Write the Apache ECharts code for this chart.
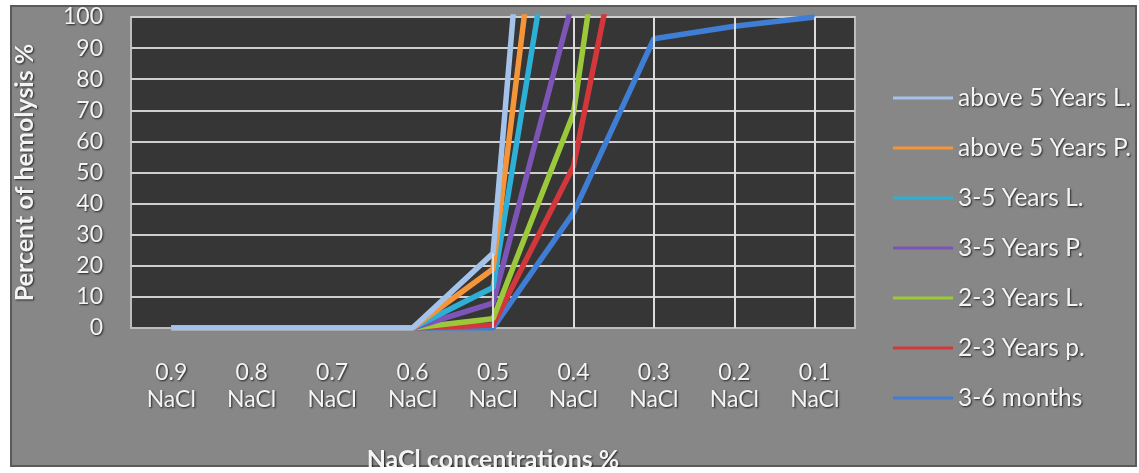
<!DOCTYPE html>
<html>
<head>
<meta charset="utf-8">
<script src="https://cdn.jsdelivr.net/npm/echarts@6/dist/echarts.min.js"></script>
<style>
html,body{margin:0;padding:0;background:#ffffff;}
#chart{width:1139px;height:473px;}
</style>
</head>
<body>
<div id="chart"></div>
<script>
// ---- data ----
const concentrations = ['0.9','0.8','0.7','0.6','0.5','0.4','0.3','0.2','0.1'];
const categories = concentrations.map(c => c + '\nNaCl');
const seriesNames = ['above 5 Years L.','above 5 Years P.','3-5 Years L.','3-5 Years P.','2-3 Years L.','2-3 Years p.','3-6 months'];
// values above 100 run off the top of the plot and are clipped in the reference
const aboveFiveYearsL = [0,0,0,0,24,330,330,330,330];
const aboveFiveYearsP = [0,0,0,0,19,228,228,228,228];
const threeFiveYearsL = [0,0,0,0,13,171,171,171,171];
const threeFiveYearsP = [0,0,0,0,8,106,106,106,106];
const twoThreeYearsL  = [0,0,0,0,3,69,246,246,246];
const twoThreeYearsP  = [0,0,0,0,1,52,180,180,180];
const threeSixMonths  = [0,0,0,0,0,37,93,97,100];
const yTicks = [0,10,20,30,40,50,60,70,80,90,100];

const seriesValues = [aboveFiveYearsL, aboveFiveYearsP, threeFiveYearsL, threeFiveYearsP, twoThreeYearsL, twoThreeYearsP, threeSixMonths];
const colors = ['#a4c2ea','#f5953a','#2eb0d6','#7c55b6','#9cc93c','#d3363b','#3f7ed4'];

const yMax = yTicks[yTicks.length-1];
// drop lines: from highest value at each category down to the axis
const dropLines = [];
categories.forEach((cat, i) => {
  let m = 0;
  seriesValues.forEach(arr => { if (arr[i] != null && arr[i] > m) m = arr[i]; });
  if (m > 0) dropLines.push([{coord:[cat, Math.min(m, yMax)]},{coord:[cat, 0]}]);
});

const shadowText = {
  color:'#f4f4f4',
  textShadowColor:'rgba(0,0,0,0.75)',
  textShadowBlur:2,
  textShadowOffsetX:1,
  textShadowOffsetY:1,
  fontFamily:'Lato'
};

const series = [];
for (let k = seriesNames.length - 1; k >= 0; k--) {
  const s = {
    name: seriesNames[k],
    type:'line',
    data: seriesValues[k],
    symbol:'none',
    clip:true,
    lineStyle:{width:5.5, color:colors[k]},
    itemStyle:{color:colors[k]},
    z: 2 + (seriesNames.length - k) * 0.01,
    animation:false
  };
  if (k === 0) {
    s.markLine = {
      silent:true,
      symbol:['none','none'],
      label:{show:false},
      lineStyle:{color:'#dcdcdc', width:2, type:'solid'},
      data: dropLines,
      animation:false
    };
  }
  series.push(s);
}

const chart = echarts.init(document.getElementById('chart'));
chart.setOption({
  backgroundColor:'#ffffff',
  animation:false,
  graphic:{elements:[
    {
      type:'rect', z:-100, silent:true,
      shape:{x:11, y:6, width:1125, height:460},
      style:{fill:'#878787', stroke:'#5a5a5a', lineWidth:2}
    },
    {
      type:'rect', z:100, silent:true,
      shape:{x:0, y:467, width:1139, height:6},
      style:{fill:'#ffffff'}
    }
  ]},
  grid:{
    left:131, right:284, top:17, bottom:145,
    outerBoundsMode:'none',
    containLabel:false,
    show:true, backgroundColor:'#363636', borderColor:'#bdbdbd', borderWidth:2
  },
  legend:{
    orient:'vertical',
    left:893, top:85,
    padding:0,
    icon:'rect',
    itemWidth:60, itemHeight:3, itemGap:24,
    itemTextGap:5,
    data: seriesNames,
    textStyle:Object.assign({fontSize:24.5, lineHeight:26}, shadowText),
    selectedMode:false
  },
  xAxis:{
    type:'category',
    data:categories,
    boundaryGap:true,
    name:'NaCl concentrations %',
    nameLocation:'middle',
    nameGap:119,
    nameTextStyle:Object.assign({fontSize:25, fontWeight:'bold'}, shadowText),
    axisLine:{show:true, lineStyle:{color:'#bdbdbd', width:2}},
    axisTick:{show:false},
    axisLabel:Object.assign({interval:0, fontSize:23, lineHeight:27, margin:31}, shadowText),
    splitLine:{show:false}
  },
  yAxis:{
    type:'value',
    min:yTicks[0], max:yMax, interval:10,
    name:'Percent of hemolysis %',
    nameLocation:'middle',
    nameGap:94,
    nameRotate:90,
    nameTextStyle:Object.assign({fontSize:25, fontWeight:'bold'}, shadowText),
    axisLine:{show:false},
    axisTick:{show:false},
    axisLabel:Object.assign({fontSize:23, margin:28}, shadowText),
    splitLine:{show:true, lineStyle:{color:'#cfcfcf', width:2}}
  },
  series:series
});
</script>
</body>
</html>
